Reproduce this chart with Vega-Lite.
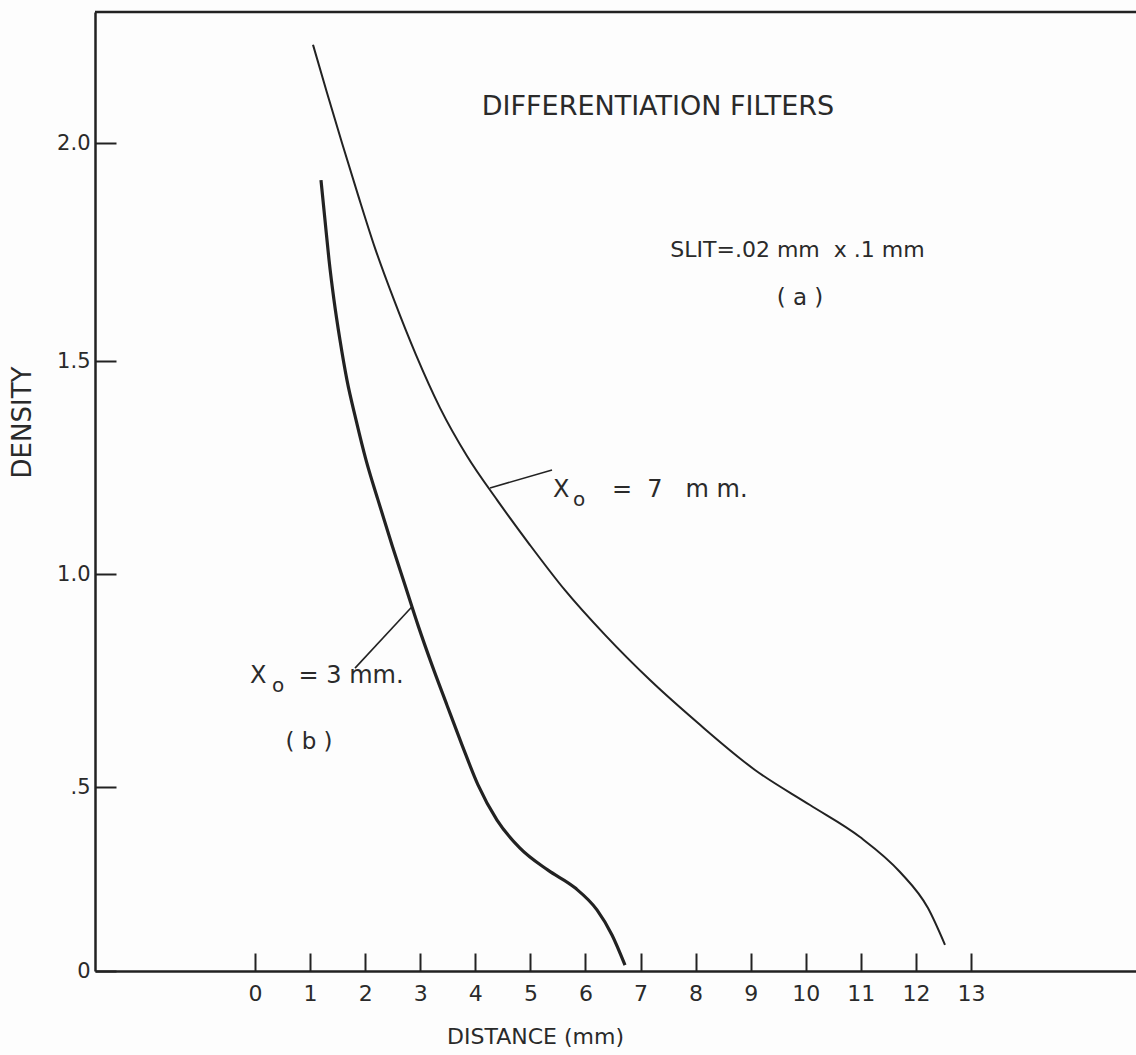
{
  "$schema": "https://vega.github.io/schema/vega-lite/v6.json",
  "width": 1041,
  "height": 959,
  "autosize": "none",
  "padding": {"left": 95, "top": 12, "right": 0, "bottom": 84},
  "background": "#fdfdfd",
  "config": {
    "view": {"stroke": null},
    "font": "DejaVu Sans",
    "axis": {
      "domainColor": "#222",
      "domainWidth": 2.5,
      "tickColor": "#222",
      "tickWidth": 2,
      "labelColor": "#2a2a2a",
      "labelFont": "DejaVu Sans",
      "titleFont": "DejaVu Sans",
      "titleColor": "#2a2a2a",
      "titleFontWeight": "normal",
      "grid": false
    }
  },
  "datasets": {
    "curves": [
      {"filter": "a", "distance": 1.053, "density": 2.225},
      {"filter": "a", "distance": 1.307, "density": 2.115},
      {"filter": "a", "distance": 1.58, "density": 2.0},
      {"filter": "a", "distance": 1.87, "density": 1.881},
      {"filter": "a", "distance": 2.179, "density": 1.759},
      {"filter": "a", "distance": 2.524, "density": 1.64},
      {"filter": "a", "distance": 2.923, "density": 1.514},
      {"filter": "a", "distance": 3.359, "density": 1.39},
      {"filter": "a", "distance": 3.849, "density": 1.277},
      {"filter": "a", "distance": 4.394, "density": 1.174},
      {"filter": "a", "distance": 4.993, "density": 1.068},
      {"filter": "a", "distance": 5.628, "density": 0.962},
      {"filter": "a", "distance": 6.355, "density": 0.857},
      {"filter": "a", "distance": 7.172, "density": 0.751},
      {"filter": "a", "distance": 8.08, "density": 0.646},
      {"filter": "a", "distance": 9.078, "density": 0.54},
      {"filter": "a", "distance": 10.077, "density": 0.451},
      {"filter": "a", "distance": 10.985, "density": 0.364},
      {"filter": "a", "distance": 11.711, "density": 0.269},
      {"filter": "a", "distance": 12.219, "density": 0.171},
      {"filter": "a", "distance": 12.528, "density": 0.071},
      {"filter": "b", "distance": 1.198, "density": 1.915},
      {"filter": "b", "distance": 1.271, "density": 1.823},
      {"filter": "b", "distance": 1.344, "density": 1.732},
      {"filter": "b", "distance": 1.434, "density": 1.64},
      {"filter": "b", "distance": 1.543, "density": 1.548},
      {"filter": "b", "distance": 1.67, "density": 1.455},
      {"filter": "b", "distance": 1.834, "density": 1.362},
      {"filter": "b", "distance": 2.015, "density": 1.268},
      {"filter": "b", "distance": 2.233, "density": 1.174},
      {"filter": "b", "distance": 2.487, "density": 1.068},
      {"filter": "b", "distance": 2.723, "density": 0.974},
      {"filter": "b", "distance": 2.959, "density": 0.88},
      {"filter": "b", "distance": 3.214, "density": 0.786},
      {"filter": "b", "distance": 3.486, "density": 0.692},
      {"filter": "b", "distance": 3.758, "density": 0.599},
      {"filter": "b", "distance": 4.049, "density": 0.505},
      {"filter": "b", "distance": 4.394, "density": 0.41},
      {"filter": "b", "distance": 4.811, "density": 0.334},
      {"filter": "b", "distance": 5.32, "density": 0.274},
      {"filter": "b", "distance": 5.81, "density": 0.226},
      {"filter": "b", "distance": 6.209, "density": 0.166},
      {"filter": "b", "distance": 6.482, "density": 0.098},
      {"filter": "b", "distance": 6.718, "density": 0.016}
    ],
    "leaders": [
      {"filter": "a", "x": 4.267, "y": 1.202, "x2": 5.393, "y2": 1.244},
      {"filter": "b", "x": 1.816, "y": 0.779, "x2": 2.85, "y2": 0.923}
    ],
    "heading": [
      {"label": "DIFFERENTIATION FILTERS", "x": 7.317, "y": 2.083}
    ],
    "slit": [
      {"label": "SLIT=.02 mm\u00a0 x .1 mm", "x": 9.85, "y": 1.755}
    ],
    "tags": [
      {"label": "( a )", "x": 9.895, "y": 1.645},
      {"label": "( b )", "x": 0.98, "y": 0.606}
    ],
    "xLetters": [
      {"label": "X", "x": 5.411, "y": 1.197},
      {"label": "X", "x": -0.091, "y": 0.761}
    ],
    "subscripts": [
      {"label": "o", "x": 5.774, "y": 1.174},
      {"label": "o", "x": 0.309, "y": 0.737}
    ],
    "values": [
      {"label": "=\u00a0\u00a07\u00a0\u00a0\u00a0m\u00a0m.", "x": 6.482, "y": 1.197},
      {"label": "=\u00a03\u00a0mm.", "x": 0.79, "y": 0.761}
    ]
  },
  "layer": [
    {
      "data": {"name": "heading"},
      "mark": {"type": "rule", "color": "#222", "strokeWidth": 2.5},
      "encoding": {"y": {"datum": 2.3, "type": "quantitative", "scale": {"domain": [0, 0.5, 1, 1.5, 2, 2.3], "range": [959, 775, 562, 349, 131, 0], "nice": false, "zero": false}}}
    },
    {
      "data": {"name": "curves"},
      "mark": {"type": "line", "interpolate": "monotone", "color": "#222"},
      "encoding": {
        "x": {
          "field": "distance",
          "type": "quantitative",
          "scale": {"domain": [-2.905, 15.996], "nice": false, "zero": false},
          "axis": {
            "values": [0, 1, 2, 3, 4, 5, 6, 7, 8, 9, 10, 11, 12, 13],
            "format": "d",
            "tickSize": -18,
            "labelFontSize": 22,
            "labelPadding": 30,
            "title": "DISTANCE  (mm)",
            "titleFontSize": 22,
            "titleX": 440,
            "titleAnchor": "middle",
            "titlePadding": 22
          }
        },
        "y": {
          "field": "density",
          "type": "quantitative",
          "axis": {
            "values": [0, 0.5, 1, 1.5, 2],
            "labelExpr": "datum.value == 0 ? '0' : datum.value == 0.5 ? '.5' : format(datum.value, '.1f')",
            "tickSize": -21,
            "labelFontSize": 21,
            "labelPadding": 26,
            "title": "DENSITY",
            "titleFontSize": 26,
            "titleX": -73,
            "titleY": 410,
            "titleAlign": "center",
            "titleBaseline": "middle"
          }
        },
        "detail": {"field": "filter"},
        "strokeWidth": {
          "field": "filter",
          "type": "nominal",
          "scale": {"domain": ["a", "b"], "range": [2, 3.2]},
          "legend": null
        }
      }
    },
    {
      "data": {"name": "leaders"},
      "mark": {"type": "rule", "color": "#222", "strokeWidth": 1.6},
      "encoding": {
        "x": {"field": "x", "type": "quantitative"},
        "y": {"field": "y", "type": "quantitative"},
        "x2": {"field": "x2"},
        "y2": {"field": "y2"}
      }
    },
    {
      "data": {"name": "heading"},
      "mark": {"type": "text", "fontSize": 27, "color": "#2a2a2a", "align": "center", "baseline": "middle"},
      "encoding": {
        "x": {"field": "x", "type": "quantitative"},
        "y": {"field": "y", "type": "quantitative"},
        "text": {"field": "label"}
      }
    },
    {
      "data": {"name": "slit"},
      "mark": {"type": "text", "fontSize": 22, "color": "#2a2a2a", "align": "center", "baseline": "middle"},
      "encoding": {
        "x": {"field": "x", "type": "quantitative"},
        "y": {"field": "y", "type": "quantitative"},
        "text": {"field": "label"}
      }
    },
    {
      "data": {"name": "tags"},
      "mark": {"type": "text", "fontSize": 23, "color": "#2a2a2a", "align": "center", "baseline": "middle"},
      "encoding": {
        "x": {"field": "x", "type": "quantitative"},
        "y": {"field": "y", "type": "quantitative"},
        "text": {"field": "label"}
      }
    },
    {
      "data": {"name": "xLetters"},
      "mark": {"type": "text", "fontSize": 24, "color": "#2a2a2a", "align": "left", "baseline": "middle"},
      "encoding": {
        "x": {"field": "x", "type": "quantitative"},
        "y": {"field": "y", "type": "quantitative"},
        "text": {"field": "label"}
      }
    },
    {
      "data": {"name": "subscripts"},
      "mark": {"type": "text", "fontSize": 20, "color": "#2a2a2a", "align": "left", "baseline": "middle"},
      "encoding": {
        "x": {"field": "x", "type": "quantitative"},
        "y": {"field": "y", "type": "quantitative"},
        "text": {"field": "label"}
      }
    },
    {
      "data": {"name": "values"},
      "mark": {"type": "text", "fontSize": 24, "color": "#2a2a2a", "align": "left", "baseline": "middle"},
      "encoding": {
        "x": {"field": "x", "type": "quantitative"},
        "y": {"field": "y", "type": "quantitative"},
        "text": {"field": "label"}
      }
    }
  ]
}
